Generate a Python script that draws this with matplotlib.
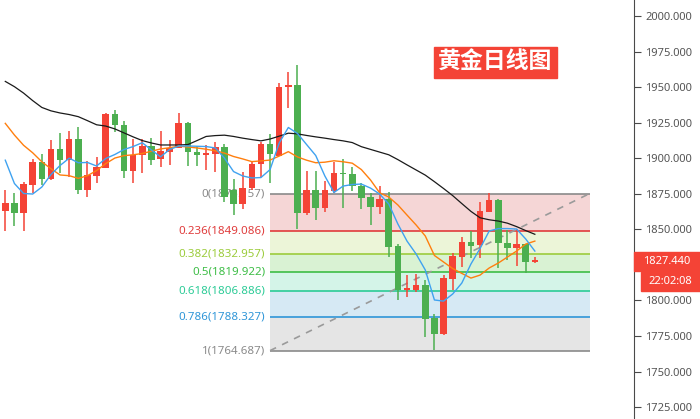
import numpy as np
import matplotlib
matplotlib.use('Agg')
import matplotlib.pyplot as plt
from matplotlib.patches import Rectangle

plt.rcParams['font.family'] = ['Noto Sans', 'DejaVu Sans']

# 日线 OHLC
opens = [1863.1, 1868.3, 1861.7, 1881.4, 1897.3, 1885.2, 1906.5, 1898.7, 1913.5, 1877.6,
         1887.5, 1893.3, 1931.1, 1923.3, 1891.3, 1902.0, 1908.6, 1899.2, 1904.1, 1906.9,
         1925.0, 1904.1, 1902.0, 1902.7, 1907.9, 1877.6, 1867.8, 1878.8, 1895.7, 1909.8,
         1901.5, 1949.9, 1951.5, 1861.2, 1877.6, 1865.2, 1877.1, 1889.8, 1888.9, 1880.4,
         1872.5, 1865.9, 1871.1, 1838.2, 1807.5, 1807.3, 1810.8, 1787.6, 1776.6, 1815.2,
         1830.7, 1841.0, 1838.9, 1862.4, 1870.6, 1840.5, 1836.6, 1839.6, 1827.2]
highs = [1877.6, 1875.3, 1883.5, 1899.2, 1902.9, 1912.8, 1917.9, 1919.1, 1921.7, 1898.2,
         1900.6, 1931.6, 1933.9, 1926.4, 1913.5, 1913.5, 1914.0, 1919.1, 1912.8, 1932.0,
         1925.7, 1908.6, 1909.3, 1911.2, 1909.8, 1885.4, 1890.1, 1897.5, 1911.6, 1917.0,
         1953.1, 1960.4, 1965.5, 1891.0, 1891.0, 1884.0, 1897.5, 1899.4, 1894.0, 1882.3,
         1875.3, 1880.4, 1876.0, 1839.6, 1817.8, 1818.5, 1814.3, 1790.2, 1817.8, 1833.1,
         1844.8, 1849.0, 1869.4, 1875.3, 1871.3, 1849.5, 1850.0, 1839.6, 1830.2]
lows = [1849.0, 1852.3, 1849.0, 1875.7, 1881.1, 1884.7, 1889.8, 1887.0, 1874.8, 1872.9,
        1882.3, 1892.8, 1918.6, 1886.3, 1882.3, 1889.8, 1895.2, 1894.0, 1895.2, 1906.9,
        1894.7, 1894.7, 1891.7, 1890.5, 1869.4, 1860.0, 1864.3, 1877.6, 1886.6, 1882.3,
        1901.5, 1935.5, 1850.2, 1860.0, 1856.5, 1862.4, 1875.3, 1864.7, 1877.1, 1864.0,
        1852.8, 1860.7, 1830.7, 1800.3, 1802.2, 1806.1, 1774.5, 1765.1, 1775.6, 1807.3,
        1823.7, 1829.6, 1829.6, 1862.4, 1822.5, 1828.4, 1824.2, 1819.5, 1826.2]
closes = [1868.3, 1861.7, 1881.8, 1897.3, 1885.4, 1906.5, 1898.7, 1913.5, 1877.6, 1888.2,
          1894.1, 1931.1, 1923.3, 1891.3, 1902.2, 1908.6, 1898.7, 1905.0, 1906.9, 1925.0,
          1904.1, 1902.0, 1903.4, 1907.9, 1872.9, 1867.8, 1879.2, 1895.9, 1910.0, 1902.9,
          1950.3, 1951.5, 1861.7, 1877.6, 1865.2, 1877.6, 1889.8, 1888.7, 1880.4, 1872.2,
          1865.9, 1871.1, 1837.7, 1807.3, 1808.2, 1810.8, 1787.1, 1776.6, 1815.5, 1831.2,
          1841.0, 1838.4, 1862.8, 1870.6, 1840.1, 1836.6, 1839.6, 1827.2, 1827.44]

# 均线
ma_black = [1954.0, 1950.3, 1945.8, 1940.5, 1935.7, 1933.3, 1931.8, 1930.7, 1929.2, 1926.4,
            1923.5, 1922.6, 1920.6, 1917.8, 1915.0, 1912.4, 1910.7, 1909.3, 1909.3, 1909.3,
            1909.6, 1912.4, 1915.3, 1915.9, 1916.2, 1915.3, 1914.1, 1913.1, 1912.2, 1913.5,
            1915.5, 1917.6, 1917.1, 1916.0, 1915.0, 1914.1, 1913.1, 1912.2, 1911.0, 1908.1,
            1906.2, 1904.3, 1902.4, 1899.0, 1895.3, 1891.7, 1888.1, 1883.5, 1878.7, 1873.7,
            1868.1, 1862.6, 1858.1, 1856.7, 1855.8, 1854.3, 1851.9, 1849.1, 1846.5]
ma_orange = [1924.5, 1916.3, 1909.1, 1903.8, 1897.5, 1892.6, 1888.2, 1887.7, 1885.8, 1887.7,
             1891.3, 1896.2, 1900.1, 1901.8, 1902.4, 1903.3, 1904.9, 1906.5, 1907.4, 1908.4,
             1907.9, 1907.2, 1906.3, 1905.2, 1903.6, 1901.2, 1899.5, 1897.6, 1898.1, 1898.7,
             1901.5, 1904.6, 1900.9, 1898.6, 1896.8, 1897.2, 1898.2, 1897.5, 1896.5, 1892.0,
             1884.7, 1875.7, 1872.7, 1867.1, 1860.0, 1853.0, 1845.3, 1831.6, 1827.0, 1822.4,
             1819.0, 1815.7, 1817.8, 1822.8, 1826.3, 1830.5, 1834.7, 1839.6, 1841.7]
ma_blue = [1898.6, 1882.2, 1875.2, 1874.8, 1879.7, 1888.5, 1894.9, 1900.0, 1896.8, 1897.0,
           1894.5, 1899.8, 1902.6, 1906.1, 1908.2, 1910.9, 1905.8, 1901.0, 1906.1, 1908.6,
           1908.6, 1908.4, 1908.2, 1907.2, 1900.1, 1890.6, 1887.5, 1886.1, 1886.4, 1892.0,
           1910.7, 1921.6, 1917.4, 1909.6, 1901.9, 1887.5, 1875.9, 1880.4, 1881.5, 1881.8,
           1879.0, 1874.8, 1867.8, 1853.7, 1841.7, 1832.6, 1821.4, 1800.3, 1799.5, 1804.5,
           1812.2, 1825.6, 1836.5, 1848.8, 1850.5, 1850.5, 1850.2, 1843.2, 1834.7]

# 斐波那契回调
fib_high = 1875.157
fib_low = 1764.687
fib_ratios = [0, 0.236, 0.382, 0.5, 0.618, 0.786, 1]
fib_values = [1875.157, 1849.086, 1832.957, 1819.922, 1806.886, 1788.327, 1764.687]
fib_start, fib_end = 29.0, 64.0

last_price = 1827.44
clock = '22:02:08'
title = '黄金日线图'
# 1825 被价格标签盖住
yticks = [1725, 1750, 1775, 1800, 1850, 1875, 1900, 1925, 1950, 1975, 2000]

RED = '#f44336'
GREEN = '#4caf50'

fig = plt.figure(figsize=(7, 4.19), dpi=100)
ax = fig.add_axes([0, 0, 634 / 700, 1])

x = np.arange(len(opens))

# fib bands
band_colors = ['#f5d6d6', '#ecf5d8', '#d9f2d3', '#d4f4e8', '#d6e9f4', '#e5e5e5']
line_colors = ['#8a8a8a', '#e03c3c', '#9ccc3c', '#3dbd46', '#2bcb96', '#2f96d8', '#8a8a8a']
for k in range(len(fib_values) - 1):
    ax.fill_between([fib_start, fib_end], fib_values[k + 1], fib_values[k],
                    color=band_colors[k], lw=0, zorder=0)
for k, (r, v) in enumerate(zip(fib_ratios, fib_values)):
    ax.hlines(v, fib_start, fib_end, color=line_colors[k], lw=1.2, zorder=1)
    ax.text(fib_start - 0.55, v, f'{r:g}({v:.3f})', ha='right', va='center',
            fontsize=8.3, color=line_colors[k], zorder=1)
ax.plot([fib_start, fib_end], [fib_low, fib_high], color='#9a9a9a', lw=1.2,
        ls=(0, (4, 4)), zorder=1)

# candles
for i in x:
    o, h, l, c = opens[i], highs[i], lows[i], closes[i]
    col = RED if c >= o else GREEN
    ax.vlines(i, l, h, color=col, lw=1.1, zorder=2)
    bottom = min(o, c)
    height = max(abs(c - o), 1.2)
    ax.bar(i, height, bottom=bottom, width=0.72, color=col, lw=0, zorder=3)

ax.plot(x, ma_black, color='#1a1a1a', lw=0.9, zorder=4)
ax.plot(x, ma_orange, color='#ff7f0e', lw=1.0, zorder=4)
ax.plot(x, ma_blue, color='#3fa2f0', lw=1.0, zorder=4)

ax.set_xlim(-0.58, 68.86)
ax.set_ylim(1716.6, 2011.25)

for s in ['left', 'top', 'bottom']:
    ax.spines[s].set_visible(False)
ax.spines['right'].set_color('#4a4a4a')
ax.set_xticks([])
ax.yaxis.tick_right()
ax.set_yticks(yticks)
ax.set_yticklabels([f'{t:.3f}' for t in yticks])
ax.tick_params(axis='y', direction='out', length=5, color='#4a4a4a',
               labelcolor='#555555', labelsize=8, pad=3)

# price + clock tags
fig.canvas.draw()
H = fig.get_size_inches()[1] * fig.dpi
W = fig.get_size_inches()[0] * fig.dpi
yp = ax.transData.transform((0, last_price))[1]
fig.patches.append(Rectangle((634 / W, (yp - 9.5) / H), 66 / W, 19 / H,
                             transform=fig.transFigure, color=RED, zorder=5))
fig.text(667 / W, yp / H, f'{last_price:.3f}', color='white', fontsize=8,
         fontweight='bold', ha='center', va='center', zorder=6)
fig.patches.append(Rectangle((641 / W, (yp - 29.5) / H), 59 / W, 19 / H,
                             transform=fig.transFigure, color=RED, zorder=5))
fig.text(670.5 / W, (yp - 20) / H, clock, color='white', fontsize=8,
         fontweight='bold', ha='center', va='center', zorder=6)

# title box
fig.patches.append(Rectangle((434 / W, 1 - 78.3 / H), 123 / W, 31.6 / H,
                             transform=fig.transFigure, color=RED, zorder=5))
fig.text(495.5 / W, 1 - 62.5 / H, title, color='white', fontsize=16.5,
         fontweight='bold', ha='center', va='center',
         family=['Noto Sans CJK SC', 'DejaVu Sans'], zorder=6)

fig.savefig('out.png', dpi=100)
